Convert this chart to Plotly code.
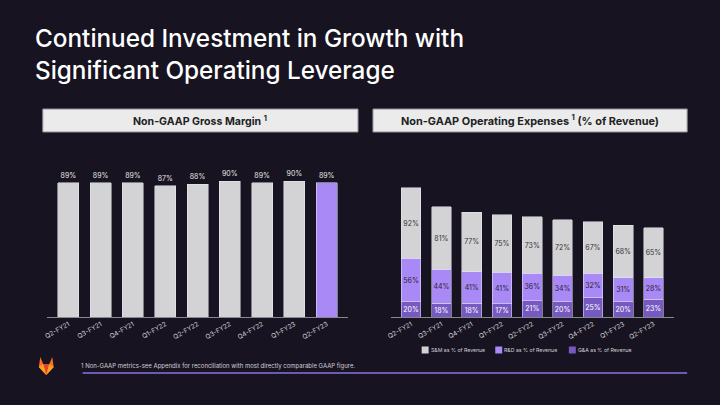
import plotly.graph_objects as go

quarters = ["Q2-FY21", "Q3-FY21", "Q4-FY21", "Q1-FY22", "Q2-FY22",
            "Q3-FY22", "Q4-FY22", "Q1-FY23", "Q2-FY23"]
gross_margin = [89, 89, 89, 87, 88, 90, 89, 90, 89]
sm_pct = [92, 81, 77, 75, 73, 72, 67, 68, 65]
rd_pct = [56, 44, 41, 41, 36, 34, 32, 31, 28]
ga_pct = [20, 18, 18, 17, 21, 20, 25, 20, 23]
series_names = ["S&M as % of Revenue", "R&D as % of Revenue", "G&A as % of Revenue"]

BG = "#171321"
GRAY = "#d3d3d5"
LPURPLE = "#a989f5"
DPURPLE = "#7759c2"
FONT = "Inter"

W, H = 720, 405
def px(x):
    return x / W
def py(y):
    return 1 - y / H

fig = go.Figure()

left_colors = [GRAY] * (len(quarters) - 1) + [LPURPLE]
fig.add_trace(go.Bar(
    x=quarters, y=gross_margin, marker_color=left_colors, width=0.65,
    text=[f"{v}%" for v in gross_margin], textposition="outside",
    textfont=dict(size=7, color="#e6e6e6", family=FONT), cliponaxis=False,
    xaxis="x", yaxis="y", showlegend=False, hoverinfo="skip"))

stack = [(sm_pct, GRAY, "#333333"), (rd_pct, LPURPLE, "#2a2238"), (ga_pct, DPURPLE, "#ffffff")]
for (vals, col, tcol), name in zip(stack[::-1], series_names[::-1]):
    fig.add_trace(go.Bar(
        x=quarters, y=vals, name=name, marker_color=col, width=0.65,
        text=[f"{v}%" for v in vals], textposition="inside",
        insidetextanchor="middle", textangle=0, constraintext="none",
        textfont=dict(size=7, color=tcol, family=FONT),
        xaxis="x2", yaxis="y2", showlegend=False, hoverinfo="skip"))

ybot = py(317)
fig.update_layout(
    width=W, height=H, margin=dict(l=0, r=0, t=0, b=0),
    paper_bgcolor=BG, plot_bgcolor=BG, barmode="stack",
    font=dict(family=FONT, color="#dddddd"),
    xaxis=dict(domain=[px(43.3), px(346)], range=[-0.66, 8.66], showline=True,
               linecolor="#8a8794", linewidth=1, ticks="", tickangle=-30,
               tickfont=dict(size=6.5, color="#cfcfd4"), showgrid=False, zeroline=False),
    yaxis=dict(domain=[ybot, py(166)], range=[0, 100], visible=False, showgrid=False),
    xaxis2=dict(domain=[px(389.3), px(673.3)], range=[-0.66, 8.66], showline=True,
                linecolor="#8a8794", linewidth=1, ticks="", tickangle=-30,
                tickfont=dict(size=6.5, color="#cfcfd4"), showgrid=False, zeroline=False),
    yaxis2=dict(domain=[ybot, py(178.4)], range=[0, 180], visible=False, showgrid=False),
)

shapes = []
annotations = []

# Title
annotations.append(dict(
    x=px(29), y=py(54), xref="paper", yref="paper", xanchor="left", yanchor="middle",
    text="Continued Investment in Growth with<br>Significant Operating Leverage",
    showarrow=False, align="left",
    font=dict(family=FONT, size=24.3, color="#ffffff", weight=500)))

# Header boxes
for (x0, x1, txt, fs) in [(39, 356, "Non-GAAP Gross Margin <sup>1</sup>", 10.6),
                          (371, 687, "Non-GAAP Operating Expenses <sup>1</sup> (% of Revenue)", 10.9)]:
    shapes.append(dict(type="rect", xref="paper", yref="paper",
                       x0=px(x0), x1=px(x1), y0=py(132), y1=py(109),
                       fillcolor="#ebebec", line=dict(color="#8e8e94", width=1)))
    annotations.append(dict(x=px((x0 + x1) / 2), y=py(120.5), xref="paper", yref="paper",
                            text=f"<b>{txt}</b>", showarrow=False, xanchor="center",
                            yanchor="middle", font=dict(family=FONT, size=fs, color="#222222")))

# Legend (manual)
legend_x = [420, 494, 568]
legend_cols = [GRAY, LPURPLE, DPURPLE]
for lx, col, name in zip(legend_x, legend_cols, series_names):
    shapes.append(dict(type="rect", xref="paper", yref="paper",
                       x0=px(lx), x1=px(lx + 7), y0=py(353.5), y1=py(346.5),
                       fillcolor=col, line=dict(width=0)))
    annotations.append(dict(x=px(lx + 7), y=py(350), xref="paper", yref="paper",
                            text=name.replace("&", "&amp;"), showarrow=False,
                            xanchor="left", yanchor="middle",
                            font=dict(family=FONT, size=5.2, color="#cfcfd4")))

# Footnote and rule
annotations.append(dict(x=px(75), y=py(365.5), xref="paper", yref="paper",
                        text="1 Non-GAAP metrics-see Appendix for reconciliation with most directly comparable GAAP figure.",
                        showarrow=False, xanchor="left", yanchor="middle",
                        font=dict(family=FONT, size=6, color="#cfcfd4")))
shapes.append(dict(type="line", xref="paper", yref="paper", x0=px(79), x1=px(687),
                   y0=py(373), y1=py(373), line=dict(color="#8f6fe0", width=1.5)))

# Tanuki-like logo
def logo_path(x0, y0, w, h, pts):
    return "M " + " L ".join(f"{px(x0 + a * w)},{py(y0 + b * h)}" for a, b in pts) + " Z"
lx0, ly0, lw, lh = 35, 357, 15, 18
shapes.append(dict(type="path", xref="paper", yref="paper",
                   path=logo_path(lx0, ly0, lw, lh, [(0.1, 0), (0.3, 0.4), (0.7, 0.4), (0.9, 0),
                                                      (1, 0.55), (0.5, 1), (0, 0.55)]),
                   fillcolor="#fc6d26", line=dict(width=0)))
shapes.append(dict(type="path", xref="paper", yref="paper",
                   path=logo_path(lx0, ly0, lw, lh, [(0.3, 0.4), (0.7, 0.4), (0.5, 1)]),
                   fillcolor="#e24329", line=dict(width=0)))
shapes.append(dict(type="path", xref="paper", yref="paper",
                   path=logo_path(lx0, ly0, lw, lh, [(0, 0.55), (0.3, 0.4), (0.5, 1)]),
                   fillcolor="#fca326", line=dict(width=0)))
shapes.append(dict(type="path", xref="paper", yref="paper",
                   path=logo_path(lx0, ly0, lw, lh, [(1, 0.55), (0.7, 0.4), (0.5, 1)]),
                   fillcolor="#fca326", line=dict(width=0)))

fig.update_layout(shapes=shapes, annotations=annotations)
fig.write_html("out.html")
